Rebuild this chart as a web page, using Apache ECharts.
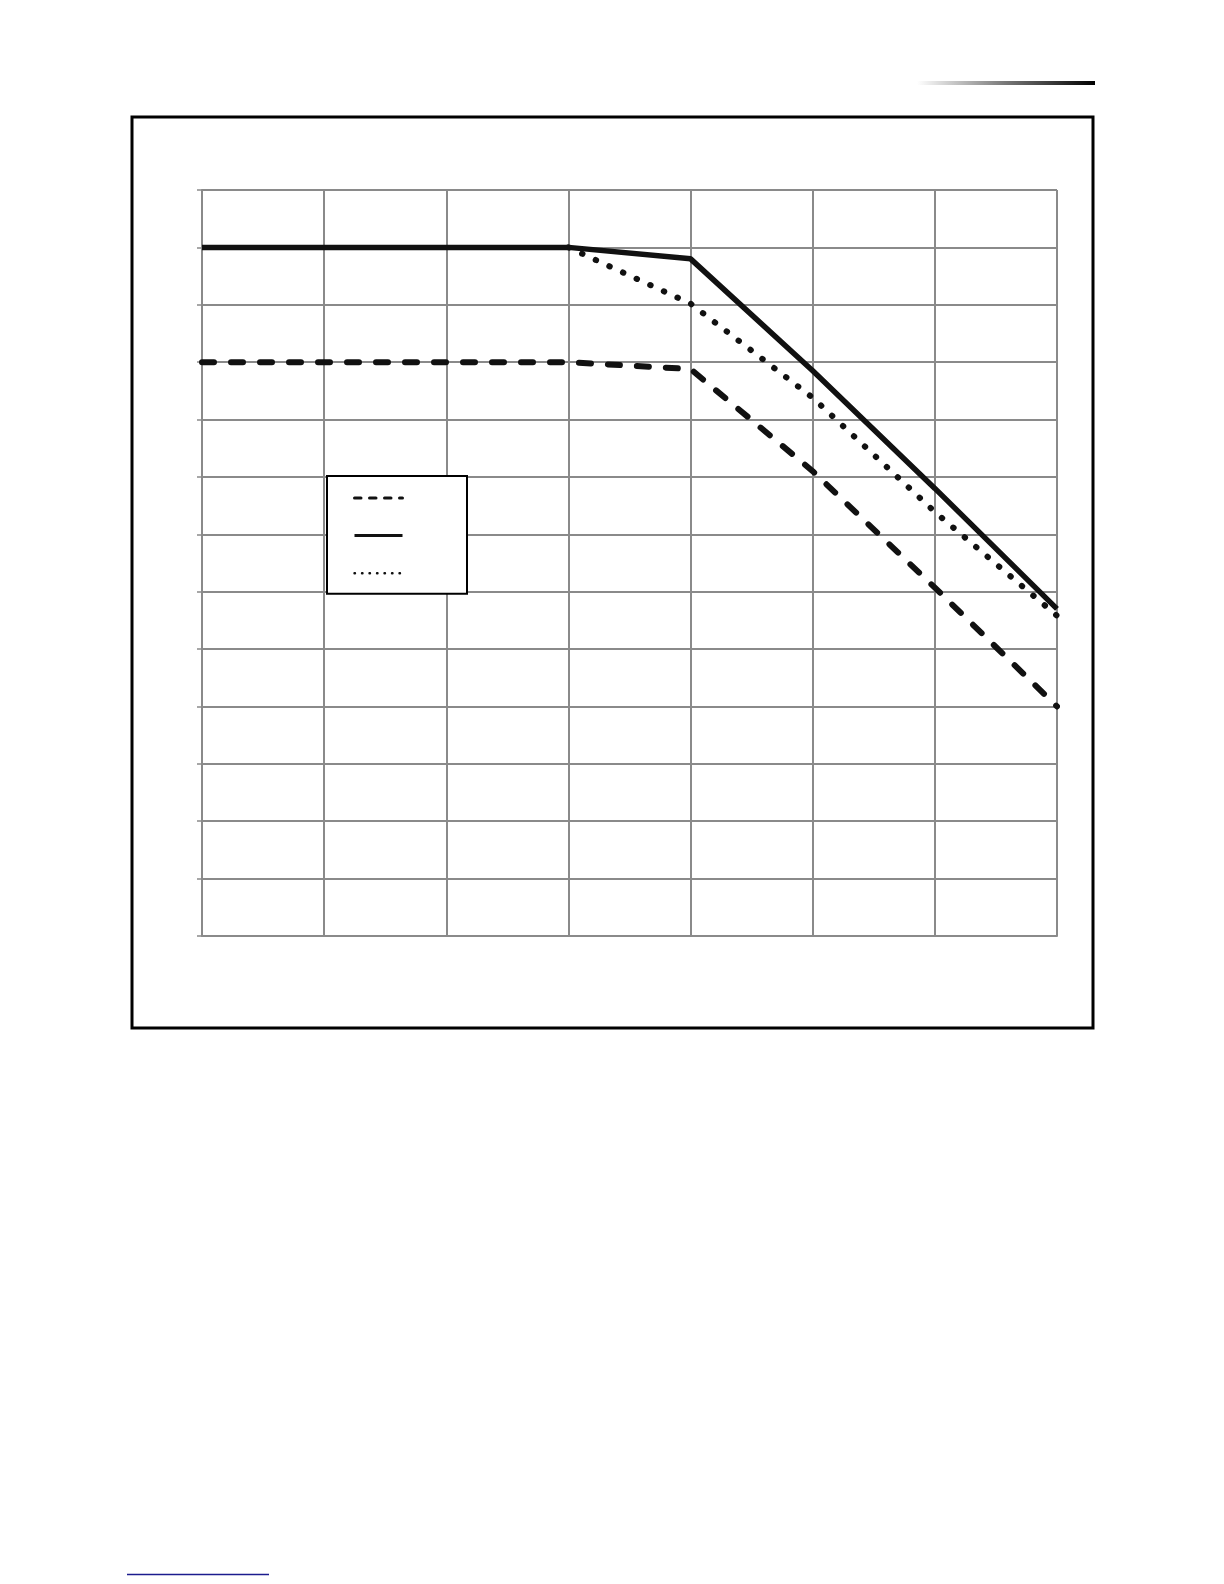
<!DOCTYPE html>
<html>
<head>
  <meta charset="utf-8" />
  <title>chart</title>
  <script src="https://cdn.jsdelivr.net/npm/echarts@6/dist/echarts.min.js"></script>
  <style>
    html, body { margin: 0; padding: 0; background: #ffffff; }
    #main { width: 1224px; height: 1584px; }
  </style>
</head>
<body>
  <div id="main"></div>
  <script type="text/javascript">
    // x positions (grid columns) and the three curves
    var xValues = [0, 1, 2, 3, 4, 5, 6, 7];
    var dashedValues = [10, 10, 10, 10, 9.88, 8.1, 6.07, 4.0];
    var solidValues = [12, 12, 12, 12, 11.8, 9.85, 7.8, 5.7];
    // dotted curve only leaves the solid one at x = 3
    var dottedValues = [null, null, null, 12, 11.02, 9.38, 7.39, 5.58];

    var gridColor = '#8a8a8a';

    function pairs(vals) {
        return xValues.map(function (x, i) { return [x, vals[i]]; });
    }

    var myChart = echarts.init(document.getElementById('main'), null, {renderer: 'canvas'});

    var option = {
        animation: false,
        backgroundColor: '#ffffff',
        grid: {left: 202, top: 190, right: 167, bottom: 648, containLabel: false},
        xAxis: {
            type: 'value', min: 0, max: 7, interval: 1,
            axisLine: {show: true, lineStyle: {color: gridColor, width: 2}},
            axisTick: {show: false},
            axisLabel: {show: false},
            splitLine: {show: true, lineStyle: {color: gridColor, width: 2}}
        },
        yAxis: {
            type: 'value', min: 0, max: 13, interval: 1,
            axisLine: {show: true, lineStyle: {color: gridColor, width: 2}},
            axisTick: {show: true, inside: false, length: 5, lineStyle: {color: gridColor, width: 1.5}},
            axisLabel: {show: false},
            splitLine: {show: true, lineStyle: {color: gridColor, width: 2}}
        },
        legend: {
            orient: 'vertical',
            left: 327, top: 476,
            padding: [15, 63, 15, 26],
            itemWidth: 48, itemHeight: 14, itemGap: 25,
            backgroundColor: '#ffffff',
            borderColor: '#000000', borderWidth: 2,
            formatter: function () { return ''; },
            selectedMode: false,
            data: [
                {name: 'dashed', itemStyle: {opacity: 0}, lineStyle: {color: '#111', width: 3, type: [6.5, 8.5], cap: 'round'}},
                {name: 'solid', itemStyle: {opacity: 0}, lineStyle: {color: '#111', width: 3, type: 'solid'}},
                {name: 'dotted', itemStyle: {opacity: 0}, lineStyle: {color: '#111', width: 2.4, type: [0.5, 7], cap: 'round'}}
            ]
        },
        series: [
            {name: 'dotted', type: 'line', data: pairs(dottedValues), symbol: 'none', z: 2,
             lineStyle: {color: '#111', width: 6, type: [0.5, 14.5], cap: 'round'}},
            {name: 'dashed', type: 'line', data: pairs(dashedValues), symbol: 'none', z: 3,
             lineStyle: {color: '#111', width: 6, type: [12, 17], cap: 'round'}},
            {name: 'solid', type: 'line', data: pairs(solidValues), symbol: 'none', z: 4,
             lineStyle: {color: '#111', width: 5.5, type: 'solid'}}
        ],
        graphic: [
            // outer frame round the chart
            {type: 'rect', shape: {x: 132, y: 117, width: 961, height: 911},
             style: {fill: 'none', stroke: '#000', lineWidth: 3}, silent: true},
            // page header bar, fading in from the left
            {type: 'rect', shape: {x: 917, y: 81, width: 178, height: 4},
             style: {fill: new echarts.graphic.LinearGradient(0, 0, 1, 0, [
                 {offset: 0, color: '#ffffff'}, {offset: 0.5, color: '#777777'}, {offset: 1, color: '#000000'}])},
             silent: true},
            // footer rule
            {type: 'line', shape: {x1: 127, y1: 1574.5, x2: 269, y2: 1574.5},
             style: {stroke: '#1c1c8e', lineWidth: 1.5}, silent: true}
        ]
    };
    myChart.setOption(option);
  </script>
</body>
</html>
